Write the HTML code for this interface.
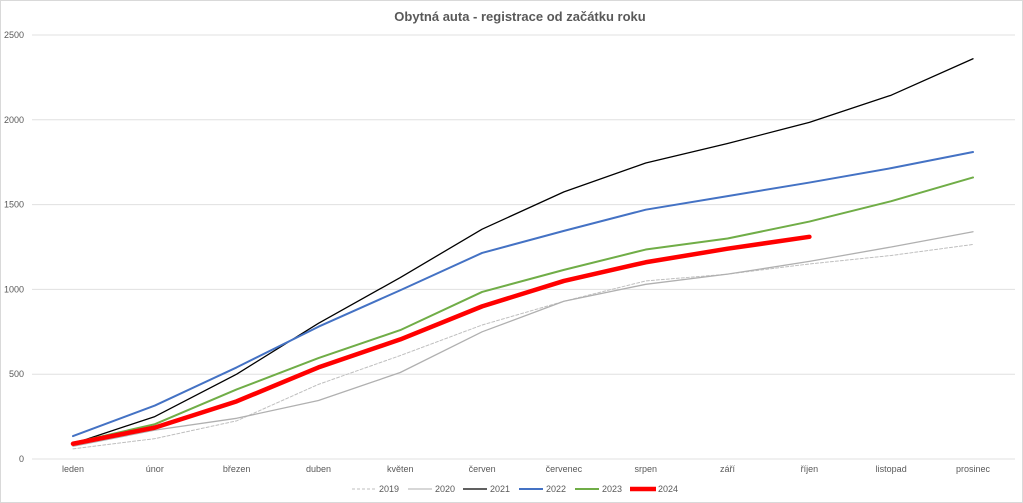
<!DOCTYPE html>
<html><head><meta charset="utf-8"><style>
html,body{margin:0;padding:0;background:#fff;}
svg{display:block;font-family:"Liberation Sans",sans-serif;}
</style></head><body>
<svg id="c" width="1023" height="503" viewBox="0 0 1023 503" xmlns="http://www.w3.org/2000/svg">
<rect x="0.5" y="0.5" width="1022" height="502" fill="#fff" stroke="#d9d9d9"/>
<text x="520" y="21" text-anchor="middle" font-size="13" font-weight="bold" fill="#595959">Obytná auta - registrace od začátku roku</text>
<g id="grid"></g>
<g id="series"></g>
<g font-size="9" fill="#595959">
<line x1="352" y1="489" x2="376" y2="489" stroke="#bfbfbf" stroke-width="1" stroke-dasharray="3,2"/><text x="379" y="492">2019</text>
<line x1="408" y1="489" x2="432" y2="489" stroke="#bfbfbf" stroke-width="1.2"/><text x="435" y="492">2020</text>
<line x1="463" y1="489" x2="487" y2="489" stroke="#000" stroke-width="1.2"/><text x="490" y="492">2021</text>
<line x1="519" y1="489" x2="543" y2="489" stroke="#4472c4" stroke-width="2"/><text x="546" y="492">2022</text>
<line x1="575" y1="489" x2="599" y2="489" stroke="#70ad47" stroke-width="2"/><text x="602" y="492">2023</text>
<line x1="630" y1="489" x2="656" y2="489" stroke="#ff0000" stroke-width="4.5"/><text x="658" y="492">2024</text>
</g>
</svg>
<script>
const ns="http://www.w3.org/2000/svg";
const g=document.getElementById('grid'),s=document.getElementById('series');
const Y=v=>459-v*0.1696, X=i=>73+i*81.82;
function el(p,t,a,txt){const e=document.createElementNS(ns,t);for(const k in a)e.setAttribute(k,a[k]);if(txt)e.textContent=txt;p.appendChild(e);return e;}
for(let v=0;v<=2500;v+=500){el(g,'line',{x1:32,x2:1015,y1:Y(v),y2:Y(v),stroke:'#e0e0e0','stroke-width':1});
el(g,'text',{x:24,y:Y(v)+3,'text-anchor':'end','font-size':9,fill:'#595959'},String(v));}
const m=['leden','únor','březen','duben','květen','červen','červenec','srpen','září','říjen','listopad','prosinec'];
m.forEach((n,i)=>el(g,'text',{x:X(i),y:472,'text-anchor':'middle','font-size':9,fill:'#595959'},n));
const D=[
[[60,120,225,440,610,790,930,1050,1090,1150,1200,1265],'#bfbfbf',1,'3,2'],
[[75,170,240,345,510,750,930,1030,1090,1165,1250,1340],'#b0b0b0',1.3,''],
[[90,250,500,800,1070,1355,1575,1745,1860,1985,2145,2360],'#000',1.3,''],
[[135,315,540,780,995,1215,1345,1470,1550,1630,1715,1810],'#4472c4',2,''],
[[95,205,410,595,760,985,1115,1235,1300,1400,1520,1660],'#70ad47',2,''],
[[90,185,340,540,705,900,1050,1160,1240,1310],'#ff0000',4.5,'']];
D.forEach(([d,c,w,da])=>{el(s,'polyline',{points:d.map((v,i)=>X(i)+','+Y(v)).join(' '),fill:'none',stroke:c,'stroke-width':w,'stroke-dasharray':da,'stroke-linejoin':'round','stroke-linecap':'round'});});
</script>
</body></html>
